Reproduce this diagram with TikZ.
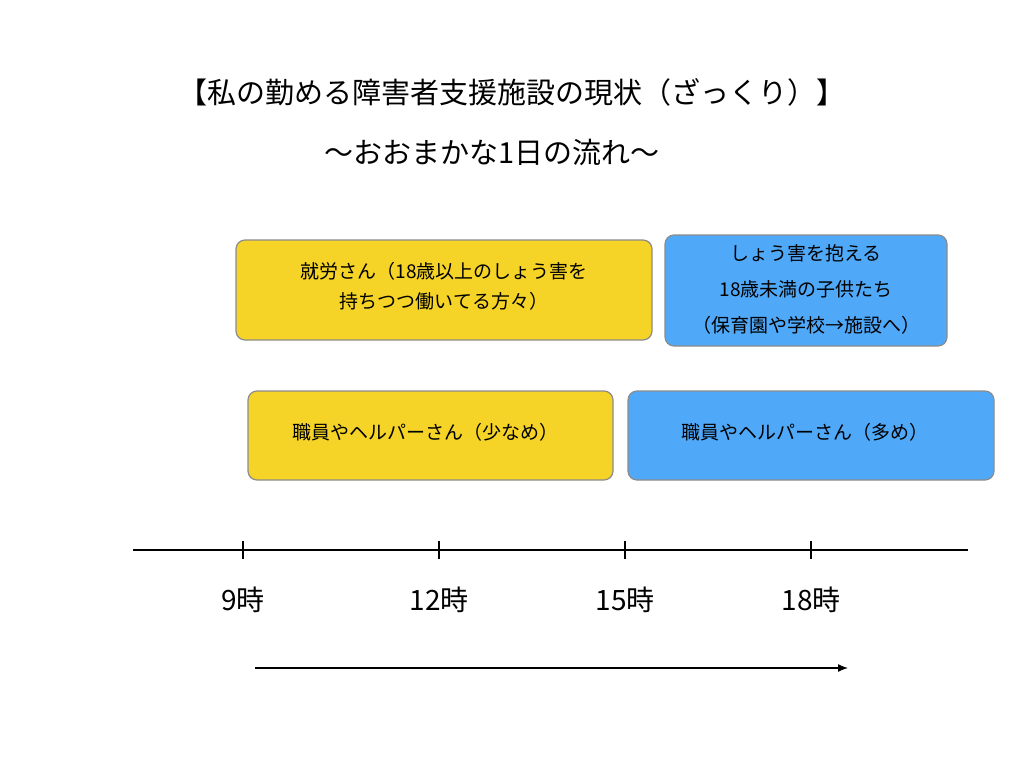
\documentclass[tikz,border=0pt]{standalone}
\usepackage{fontspec}
\usetikzlibrary{arrows.meta}
\setmainfont{Noto Sans CJK JP}
\definecolor{yel}{HTML}{F5D327}
\definecolor{blu}{HTML}{4FA8F8}
\definecolor{bord}{HTML}{8C8C8C}
\begin{document}
\begin{tikzpicture}[x=1pt,y=-1pt,
  box/.style={draw=bord,line width=1.2pt,rounded corners=9pt},
  txt/.style={inner sep=0pt,font=\fontsize{19}{30}\selectfont,align=center},
  lab/.style={inner sep=0pt,font=\fontsize{28}{32}\selectfont}]
\useasboundingbox[fill=white] (0,0) rectangle (1024,768);
\node[inner sep=0pt,font=\fontsize{29}{34}\selectfont] (t1) at (512,92) {【私の勤める障害者支援施設の現状（ざっくり）】};
\node[inner sep=0pt,font=\fontsize{29}{34}\selectfont] (t2) at (492,152) {〜おおまかな1日の流れ〜};
\filldraw[box,fill=yel] (236,240) rectangle (652,340);
\node[txt] (a) at (444,286) {就労さん（18歳以上のしょう害を\\持ちつつ働いてる方々）};
\filldraw[box,fill=blu] (665,235) rectangle (947,346);
\node[txt,font=\fontsize{19}{36}\selectfont] (b) at (806,289) {しょう害を抱える\\18歳未満の子供たち\\（保育園や学校→施設へ）};
\filldraw[box,fill=yel] (248,391) rectangle (613,480);
\node[txt] (c) at (425,432) {職員やヘルパーさん（少なめ）};
\filldraw[box,fill=blu] (628,391) rectangle (994,480);
\node[txt] (d) at (805,432) {職員やヘルパーさん（多め）};
\coordinate (l0) at (133,550); \coordinate (l1) at (968,550);
\draw[line width=1.3pt] (l0) -- (l1);
\foreach \x/\n in {243/9,439/12,625/15,811/18}{
  \draw[line width=1.3pt] (\x,541) -- (\x,559);
  \node[lab] (lab\n) at (\x,600) {\n 時};}
\coordinate (a0) at (255,668); \coordinate (a1) at (848,668);
\draw[line width=1.3pt,-{Latex[length=10pt,width=8pt]}] (a0) -- (a1);
\end{tikzpicture}
\end{document}
